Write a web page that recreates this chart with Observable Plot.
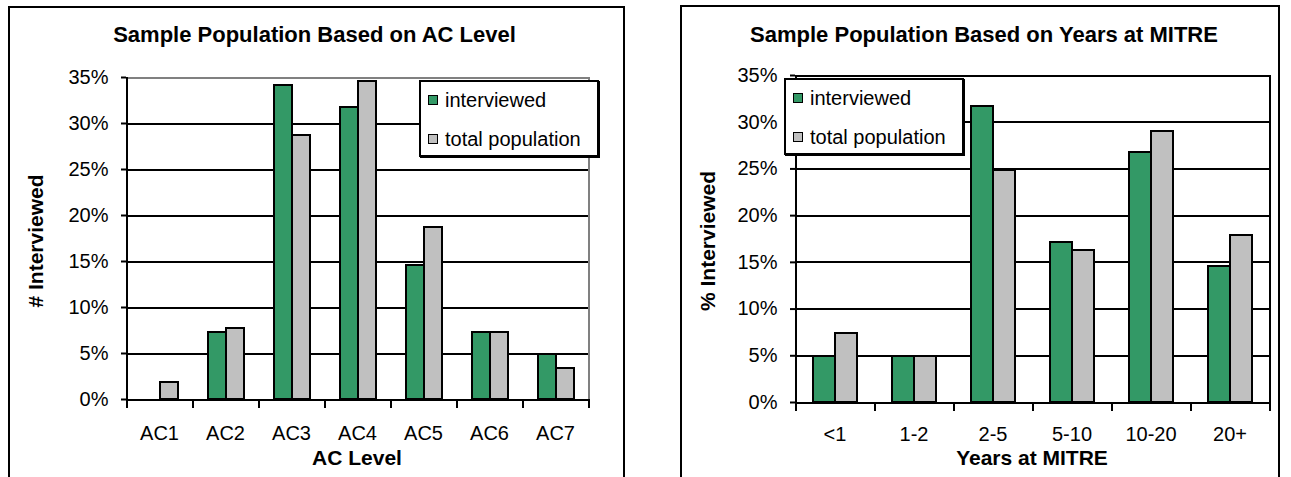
<!DOCTYPE html>
<html><head><meta charset="utf-8">
<script src="https://cdn.jsdelivr.net/npm/d3@7"></script>
<script src="https://cdn.jsdelivr.net/npm/@observablehq/plot@0.6"></script>
<style>
html,body{margin:0;padding:0;background:#fff;}
body{position:relative;width:1291px;height:477px;overflow:hidden;font-family:"Liberation Sans",Arial,sans-serif;color:#000;}
.panel{position:absolute;border:2px solid #000;box-sizing:border-box;height:540px;}
.chart{position:absolute;top:0;}
.chart svg{display:block;overflow:visible;}
.title{position:absolute;font-weight:bold;font-size:22px;line-height:22px;white-space:nowrap;transform:translateX(-50%);}
.axtitle{position:absolute;font-weight:bold;font-size:21px;line-height:21px;white-space:nowrap;transform:translateX(-50%);}
.ytitle{position:absolute;font-weight:bold;font-size:21px;line-height:21px;white-space:nowrap;transform:translate(-50%,-50%) rotate(-90deg);}
.legend{position:absolute;background:#fff;border:2px solid #000;box-sizing:border-box;width:180px;height:77px;box-shadow:1px 1px 0 #000;}
.legend .row{position:absolute;left:7px;height:38px;display:flex;align-items:center;font-size:20px;white-space:nowrap;}
.legend .sw{width:8px;height:8px;border:1.5px solid #000;margin-right:7px;}
</style></head><body>
<div class="panel" style="left:8px;top:6px;width:617px;"></div>
<div class="panel" style="left:680px;top:5px;width:600px;"></div>
<div id="c1" class="chart" style="left:0px;"></div>
<div id="c2" class="chart" style="left:645px;"></div>
<div id="overlay"></div>
<script>
const acLevels = ["AC1", "AC2", "AC3", "AC4", "AC5", "AC6", "AC7"];
const acInterviewed = [0, 7.3, 34.1, 31.7, 14.6, 7.3, 4.9];
const acTotal = [1.8, 7.7, 28.7, 34.6, 18.7, 7.3, 3.4];
const yearBands = ["<1", "1-2", "2-5", "5-10", "10-20", "20+"];
const yearsInterviewed = [4.9, 4.9, 31.7, 17.1, 26.8, 14.6];
const yearsTotal = [7.4, 4.9, 24.8, 16.3, 29.0, 17.9];
const seriesNames = ["interviewed", "total population"];
const seriesColors = ["#339966", "#c0c0c0"];
const yTicks = [0, 5, 10, 15, 20, 25, 30, 35];

const titles = ["Sample Population Based on AC Level", "Sample Population Based on Years at MITRE"];
const xTitles = ["AC Level", "Years at MITRE"];
const yTitles = ["# Interviewed", "% Interviewed"];

function tidy(cats, a, b) {
  return cats.flatMap((c, i) => [
    {cat: c, series: seriesNames[0], value: a[i]},
    {cat: c, series: seriesNames[1], value: b[i]}
  ]);
}

function chart({cats, a, b, width, height, ml, mr, mt, mb, edge, labelPad}) {
  const data = tidy(cats, a, b);
  const plotH = height - mt - mb;
  const line = {strokeWidth: 2, shapeRendering: "crispEdges"};
  return Plot.plot({
    width, height,
    marginLeft: ml, marginRight: mr, marginTop: mt, marginBottom: mb,
    style: {fontFamily: "'Liberation Sans', Arial, sans-serif", fontSize: "20px", background: "transparent", color: "#000", overflow: "visible"},
    fx: {domain: cats, padding: 0, label: null},
    x: {domain: seriesNames, paddingInner: 0, paddingOuter: 0.75, axis: null},
    y: {domain: [0, 35], axis: null},
    color: {domain: seriesNames, range: seriesColors},
    marks: [
      Plot.ruleY(yTicks.filter(t => t > 0 && t < 35), {stroke: "#000", strokeOpacity: 1, ...line}),
      Plot.frame({anchor: "top", stroke: edge, ...line}),
      Plot.frame({anchor: "right", facetAnchor: "right", stroke: edge, ...line}),
      Plot.barY(data, {fx: "cat", x: "series", y: "value", fill: "series", stroke: "#000", ...line}),
      Plot.frame({anchor: "bottom", stroke: "#000", ...line}),
      Plot.frame({anchor: "left", facetAnchor: "left", stroke: "#000", ...line}),
      Plot.frame({anchor: "left", insetTop: plotH, insetBottom: -7, stroke: "#000", ...line}),
      Plot.frame({anchor: "right", facetAnchor: "right", insetTop: plotH, insetBottom: -7, stroke: "#000", ...line}),
      Plot.axisY(yTicks, {tickSize: 5, tickPadding: 13, tickFormat: d => d + "%", fontSize: 20, stroke: "#000", strokeWidth: 2, label: null}),
      Plot.axisFx({anchor: "bottom", tickSize: 0, tickPadding: labelPad, fontSize: 20, label: null})
    ]
  });
}

document.getElementById("c1").append(chart({
  cats: acLevels, a: acInterviewed, b: acTotal,
  width: 645, height: 477, ml: 123.5, mr: 54, mt: 77, mb: 78, edge: "#808080", labelPad: 26
}));
document.getElementById("c2").append(chart({
  cats: yearBands, a: yearsInterviewed, b: yearsTotal,
  width: 646, height: 477, ml: 149, mr: 21, mt: 75, mb: 75, edge: "#000", labelPad: 24
}));

// text overlays
const ov = document.getElementById("overlay");
function add(cls, text, style) {
  const d = document.createElement("div");
  d.className = cls; d.textContent = text; Object.assign(d.style, style); ov.append(d); return d;
}
add("title", titles[0], {left: "314.5px", top: "24.4px"});
add("title", titles[1], {left: "984px", top: "24.4px"});
add("axtitle", xTitles[0], {left: "357px", top: "447px"});
add("axtitle", xTitles[1], {left: "1032px", top: "447px"});
add("ytitle", yTitles[0], {left: "35px", top: "241px"});
add("ytitle", yTitles[1], {left: "707px", top: "241px"});

function legend(left, top) {
  const box = document.createElement("div");
  box.className = "legend";
  box.style.left = left + "px"; box.style.top = top + "px";
  seriesNames.forEach((name, i) => {
    const row = document.createElement("div");
    row.className = "row";
    row.style.top = (i === 0 ? -1 : 38) + "px";
    const sw = document.createElement("div");
    sw.className = "sw"; sw.style.background = seriesColors[i];
    const t = document.createElement("span"); t.textContent = name;
    row.append(sw, t); box.append(row);
  });
  ov.append(box);
}
legend(419, 80);
legend(784, 78);
</script>
</body></html>
